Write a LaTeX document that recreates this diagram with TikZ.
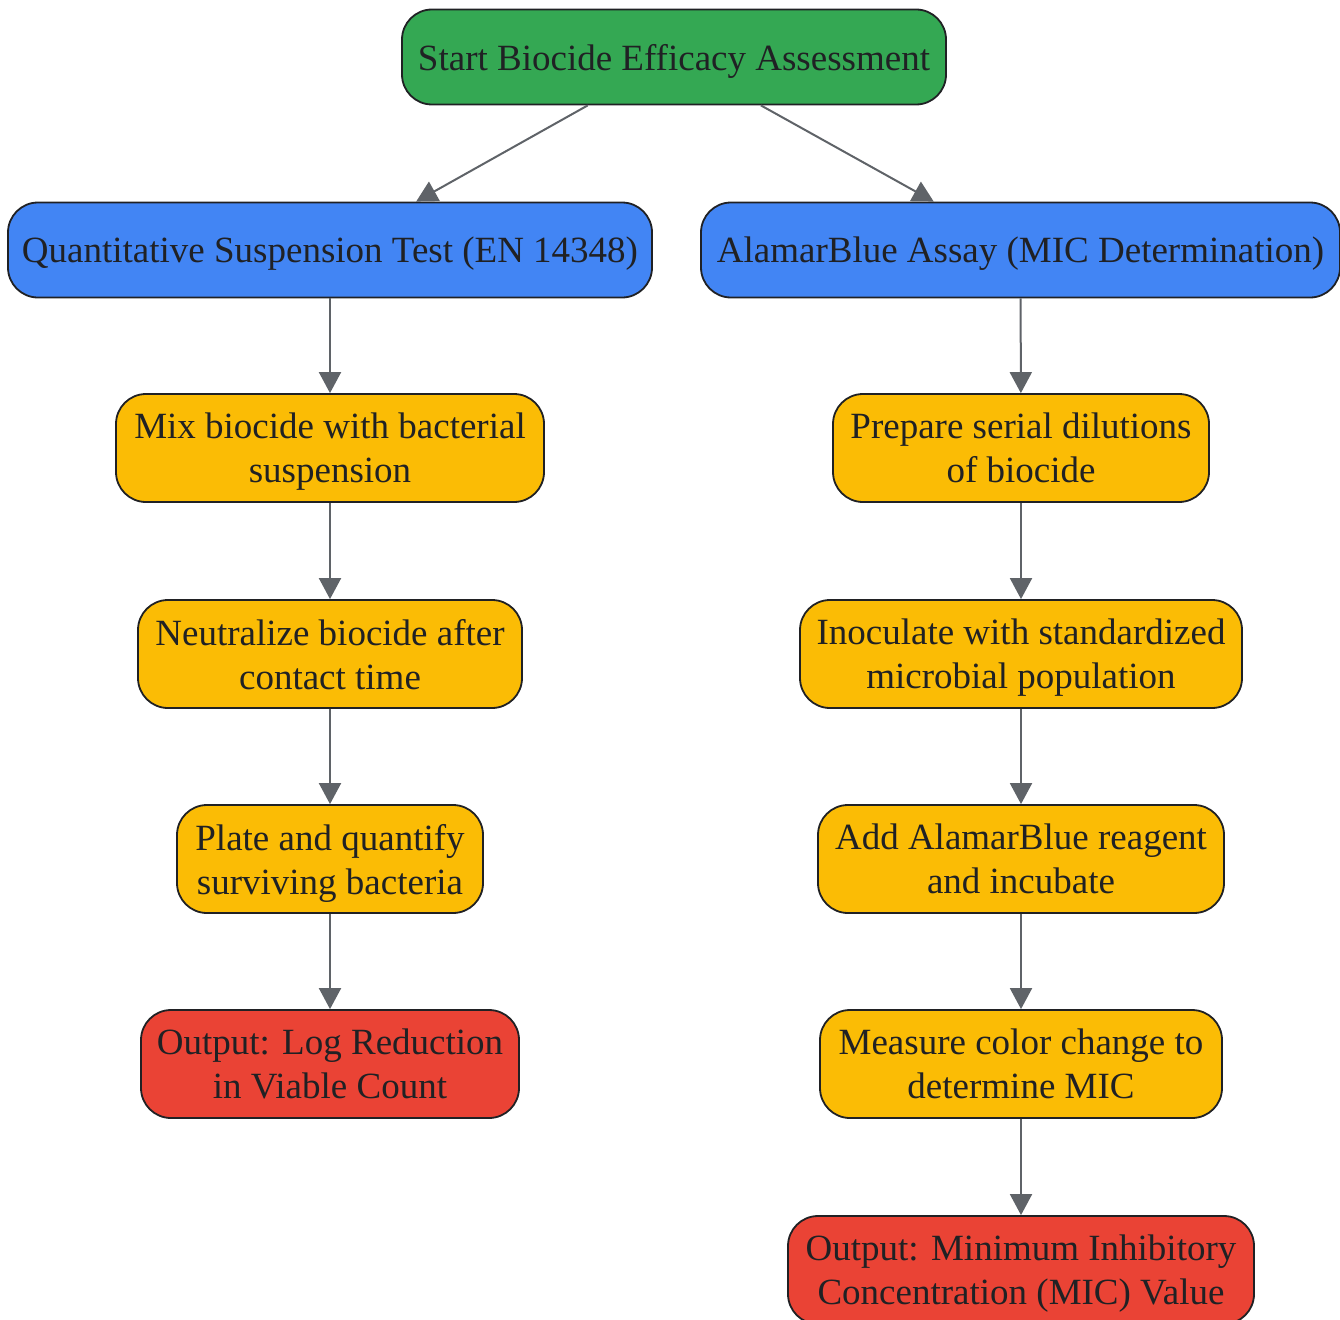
\documentclass[tikz,border=0pt]{standalone}
\usepackage{fontspec}
\setmainfont{Liberation Serif}
\usepackage{tikz}
\usetikzlibrary{arrows.meta}

\definecolor{gstart}{HTML}{34A853}
\definecolor{gtest}{HTML}{4285F4}
\definecolor{gstep}{HTML}{FBBC05}
\definecolor{gout}{HTML}{EA4335}
\definecolor{gedge}{HTML}{5F6368}
\definecolor{gtext}{HTML}{202124}

\begin{document}
\begin{tikzpicture}[x=1pt,y=-1pt,
  box/.style={draw=gtext, line width=1.8pt, rounded corners=30pt, align=center,
    text=gtext, inner sep=0pt, text depth=0pt, font=\fontsize{37}{44}\selectfont},
  one/.style={box, minimum height=95pt},
  two/.style={box, minimum height=108pt},
  arr/.style={-{Triangle[length=21pt,width=22pt]}, draw=gedge, line width=2pt}]
 \useasboundingbox (0,0) rectangle (1340,1319);
 % start and the two tests
 \node[one, fill=gstart, minimum width=544pt] (start) at (674,57) {Start Biocide Efficacy Assessment};
 \node[one, fill=gtest, minimum width=644pt] (quant) at (330,250) {Quantitative Suspension Test (EN 14348)};
 \node[one, fill=gtest, minimum width=639pt] (alamar) at (1020.5,250) {AlamarBlue Assay (MIC Determination)};
%
 \node[two, fill=gstep, minimum width=428pt] (mix) at (330,448) {Mix biocide with bacterial\\suspension};
 \node[two, fill=gstep, minimum width=384pt] (neut) at (330,654) {Neutralize biocide after\\contact time};
 \node[two, fill=gstep, minimum width=306pt] (plate) at (330,859) {Plate and quantify\\surviving bacteria};
 \node[two, fill=gout, minimum width=378pt] (logred) at (330,1064) {Output: Log Reduction\\in Viable Count};
%
 \node[two, fill=gstep, minimum width=376pt] (prep) at (1021,448) {Prepare serial dilutions\\of biocide};
 \node[two, fill=gstep, minimum width=442pt] (inoc) at (1021,654) {Inoculate with standardized\\microbial population};
 \node[two, fill=gstep, minimum width=406pt] (add) at (1021,859) {Add AlamarBlue reagent\\and incubate};
 \node[two, fill=gstep, minimum width=402pt] (meas) at (1021,1064) {Measure color change to\\determine MIC};
 \node[two, fill=gout, minimum width=466pt] (mic) at (1021,1270) {Output: Minimum Inhibitory\\Concentration (MIC) Value};
%
 \draw[arr] (start) -- (quant);
 \draw[arr] (start) -- (alamar);
 \draw[arr] (quant) -- (mix);
 \draw[arr] (mix) -- (neut);
 \draw[arr] (neut) -- (plate);
 \draw[arr] (plate) -- (logred);
 \draw[arr] (alamar) -- (prep);
 \draw[arr] (prep) -- (inoc);
 \draw[arr] (inoc) -- (add);
 \draw[arr] (add) -- (meas);
 \draw[arr] (meas) -- (mic);
\end{tikzpicture}
\end{document}
